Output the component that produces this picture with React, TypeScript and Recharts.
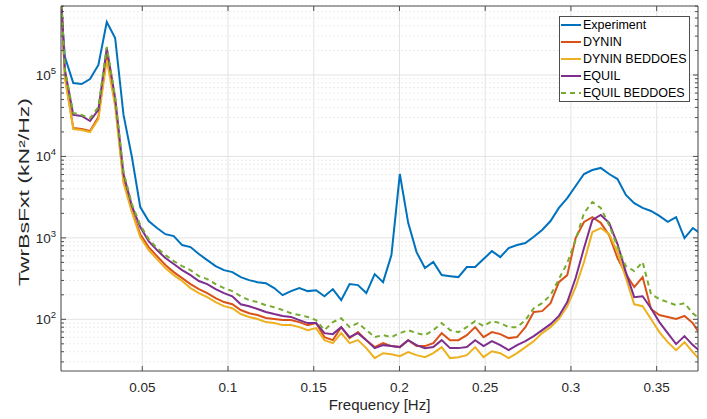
import React from "react";
import {
  LineChart,
  Line,
  XAxis,
  YAxis,
  CartesianGrid,
  ReferenceLine,
  Legend,
} from "recharts";

// frequency bins (Hz), df = 1/204.8
const freq = [
  0, 0.00488, 0.00977, 0.01465, 0.01953, 0.02441, 0.0293, 0.03418, 0.03906, 0.04395,
  0.04883, 0.05371, 0.05859, 0.06348, 0.06836, 0.07324, 0.07813, 0.08301, 0.08789, 0.09277,
  0.09766, 0.10254, 0.10742, 0.1123, 0.11719, 0.12207, 0.12695, 0.13184, 0.13672, 0.1416,
  0.14648, 0.15137, 0.15625, 0.16113, 0.16602, 0.1709, 0.17578, 0.18066, 0.18555, 0.19043,
  0.19531, 0.2002, 0.20508, 0.20996, 0.21484, 0.21973, 0.22461, 0.22949, 0.23438, 0.23926,
  0.24414, 0.24902, 0.25391, 0.25879, 0.26367, 0.26855, 0.27344, 0.27832, 0.2832, 0.28809,
  0.29297, 0.29785, 0.30273, 0.30762, 0.3125, 0.31738, 0.32227, 0.32715, 0.33203, 0.33691,
  0.3418, 0.34668, 0.35156, 0.35645, 0.36133, 0.36621, 0.37109, 0.37598,
];

const experiment = [
  3500000, 166000, 79800, 77500, 89300, 133000, 448000, 285000, 32300, 9840,
  2390, 1610, 1320, 1110, 1050, 816, 771, 633, 534, 451,
  402, 380, 330, 303, 286, 278, 242, 198, 222, 242,
  222, 228, 192, 235, 172, 271, 263, 210, 359, 286,
  615, 6080, 1530, 669, 426, 505, 349, 339, 330, 438,
  438, 549, 688, 581, 750, 816, 864, 1030, 1250, 1610,
  2330, 3080, 4330, 6080, 6810, 7220, 6080, 5280, 3360, 2670,
  2330, 2140, 1860, 1570, 1800, 995, 1320, 1110,
];

const dynin = [
  12000000, 97200, 22300, 21700, 20500, 30500, 176000, 45300, 5130, 2140,
  1110, 771, 598, 464, 380, 321, 271, 235, 210, 182,
  163, 153, 130, 119, 113, 104, 101, 97.8, 97.8, 92.4,
  84.9, 89.9, 60.5, 55.5, 80.2, 58.8, 69.6, 55.5, 45.6, 51,
  46.9, 45.6, 55.5, 46.9, 46.9, 51, 67.7, 55.5, 55.5, 64,
  80.2, 60.5, 69.6, 65.8, 58.8, 60.5, 80.2, 123, 126, 158,
  286, 349, 995, 1570, 1800, 1530, 1080, 565, 359, 249,
  330, 134, 113, 107, 101, 110, 89.9, 62.2,
];

const dyninBeddoes = [
  12000000, 91900, 21700, 21100, 19900, 28800, 153000, 41600, 4700, 2080,
  1020, 708, 549, 426, 349, 295, 242, 210, 187, 163,
  145, 137, 116, 107, 101, 92.4, 89.9, 84.9, 84.9, 80.2,
  73.7, 78, 55.5, 51, 67.7, 51, 55.5, 44.3, 33.4, 38.4,
  37.3, 35.3, 39.5, 36.3, 34.3, 38.4, 45.6, 33.4, 34.3, 36.3,
  45.6, 34.3, 40.6, 38.4, 33.4, 38.4, 45.6, 54, 67.7, 80.2,
  101, 145, 249, 505, 1180, 1320, 1110, 669, 321, 153,
  145, 101, 69.6, 52.4, 41.8, 52.4, 39.5, 30.6,
];

const equil = [
  12000000, 115000, 32300, 31400, 27200, 37200, 215000, 52200, 6080, 2460,
  1360, 914, 708, 565, 477, 402, 349, 295, 271, 235,
  210, 192, 153, 145, 134, 123, 116, 110, 107, 97.8,
  89.9, 89.9, 67.7, 65.8, 80.2, 60.5, 67.7, 55.5, 44.3, 48.2,
  46.9, 45.6, 55.5, 48.2, 44.3, 45.6, 55.5, 44.3, 44.3, 45.6,
  55.5, 46.9, 54, 48.2, 41.8, 48.2, 54, 62.2, 73.7, 87.3,
  110, 163, 321, 750, 1660, 1910, 1530, 840, 380, 187,
  192, 137, 92.4, 67.7, 49.6, 62.2, 48.2, 39.5,
];

const equilBeddoes = [
  12000000, 115000, 34100, 32300, 29600, 40400, 221000, 53700, 6430, 2600,
  1440, 967, 750, 615, 519, 451, 402, 339, 312, 271,
  242, 222, 192, 172, 163, 149, 141, 130, 119, 113,
  107, 97.8, 73.7, 92.4, 103, 80.2, 89.9, 73.7, 60.5, 64,
  60.5, 67.7, 73.7, 67.7, 64, 73.7, 89.9, 73.7, 69.6, 80.2,
  95.1, 82.5, 95.1, 89.9, 80.2, 80.2, 97.8, 137, 158, 198,
  312, 491, 940, 2020, 2750, 2330, 1440, 771, 451, 391,
  505, 204, 177, 163, 149, 158, 119, 97.8,
];

const X_TICKS = [0.05, 0.1, 0.15, 0.2, 0.25, 0.3, 0.35];
const Y_MAJOR = [100, 1000, 10000, 100000];
const Y_MINOR = [
  30, 40, 50, 60, 70, 80, 90,
  200, 300, 400, 500, 600, 700, 800, 900,
  2000, 3000, 4000, 5000, 6000, 7000, 8000, 9000,
  20000, 30000, 40000, 50000, 60000, 70000, 80000, 90000,
  200000, 300000, 400000, 500000, 600000, 700000,
];
const Y_TICKS = [...Y_MINOR, ...Y_MAJOR].sort((a, b) => a - b);

const X_DOMAIN = [0.0026, 0.3741];
const Y_DOMAIN = [23.2, 703000];

const SERIES = [
  { key: "experiment", name: "Experiment", color: "#0072BD" },
  { key: "dynin", name: "DYNIN", color: "#D95319" },
  { key: "dyninBeddoes", name: "DYNIN BEDDOES", color: "#EDB120" },
  { key: "equil", name: "EQUIL", color: "#7E2F8E" },
  { key: "equilBeddoes", name: "EQUIL BEDDOES", color: "#77AC30", dash: "5 4" },
];

const data = freq.map((f, i) => ({
  f,
  experiment: experiment[i],
  dynin: dynin[i],
  dyninBeddoes: dyninBeddoes[i],
  equil: equil[i],
  equilBeddoes: equilBeddoes[i],
}));

const FONT = '"Liberation Sans", Arial, Helvetica, sans-serif';
const AXIS = "#4d4d4d";
const TEXT = "#262626";

const LeftTick = (props: any) => {
  const { x, y, payload } = props;
  const major = Y_MAJOR.includes(payload.value);
  return (
    <g>
      <line x1={x} x2={x + (major ? 5 : 3)} y1={y} y2={y} stroke={AXIS} />
      {major && (
        <text x={x - 5} y={y + 5} textAnchor="end" fill={TEXT} fontSize={13.5} fontFamily={FONT}>
          10
          <tspan dy={-6} fontSize={9.5}>
            {Math.round(Math.log10(payload.value))}
          </tspan>
        </text>
      )}
    </g>
  );
};

const RightTick = (props: any) => {
  const { x, y, payload } = props;
  const major = Y_MAJOR.includes(payload.value);
  return <line x1={x} x2={x - (major ? 5 : 3)} y1={y} y2={y} stroke={AXIS} />;
};

const BottomTick = (props: any) => {
  const { x, y, payload } = props;
  return (
    <g>
      <line x1={x} x2={x} y1={y} y2={y - 5} stroke={AXIS} />
      <text x={x} y={y + 21} textAnchor="middle" fill={TEXT} fontSize={13.5} fontFamily={FONT}>
        {payload.value}
      </text>
    </g>
  );
};

const TopTick = (props: any) => {
  const { x, y } = props;
  return <line x1={x} x2={x} y1={y} y2={y + 5} stroke={AXIS} />;
};

// y label is drawn stretched along its length, as in the source figure
const YLabel = () => (
  <text
    transform="translate(29,192) rotate(-90)"
    textAnchor="middle"
    fill={TEXT}
    fontSize={15}
    fontFamily={FONT}
    textLength={188}
    lengthAdjust="spacingAndGlyphs"
  >
    TwrBsFxt (kN²/Hz)
  </text>
);

const LegendBox = () => (
  <div
    style={{
      border: `1px solid ${AXIS}`,
      background: "#fff",
      fontFamily: FONT,
      fontSize: 12.5,
      color: "#000",
      width: 131,
      boxSizing: "border-box",
    }}
  >
    {SERIES.map((s) => (
      <div key={s.key} style={{ display: "flex", alignItems: "center", height: 16.8 }}>
        <svg width={23} height={6} style={{ flex: "none" }}>
          <line x1={1} x2={21} y1={3} y2={3} stroke={s.color} strokeWidth={2} strokeDasharray={s.dash} />
        </svg>
        <span>{s.name}</span>
      </div>
    ))}
  </div>
);

export default function App() {
  return (
    <div style={{ position: "absolute", left: 0, top: 0, width: 707, height: 419, background: "#fff" }}>
      <LineChart width={707} height={419} data={data} margin={{ top: 6, right: 9, bottom: 0, left: 0 }}>
        <CartesianGrid horizontal={false} stroke="#e3e3e3" />
        {Y_MINOR.map((v) => (
          <ReferenceLine key={`mn${v}`} y={v} stroke="#ececec" strokeDasharray="2 2" />
        ))}
        {Y_MAJOR.map((v) => (
          <ReferenceLine key={`mj${v}`} y={v} stroke="#e3e3e3" />
        ))}
        <XAxis
          dataKey="f"
          type="number"
          domain={X_DOMAIN}
          allowDataOverflow
          ticks={X_TICKS}
          interval={0}
          tickLine={false}
          tickSize={0}
          tickMargin={0}
          tick={<BottomTick />}
          height={48}
          axisLine={{ stroke: AXIS }}
          label={{ value: "Frequency [Hz]", position: "insideBottom", offset: 9, fill: TEXT, fontSize: 15, fontFamily: FONT }}
        />
        <XAxis
          xAxisId="top"
          orientation="top"
          mirror
          dataKey="f"
          type="number"
          domain={X_DOMAIN}
          allowDataOverflow
          ticks={X_TICKS}
          interval={0}
          tickLine={false}
          tickSize={0}
          tickMargin={0}
          tick={<TopTick />}
          axisLine={{ stroke: AXIS }}
        />
        <YAxis
          type="number"
          scale="log"
          domain={Y_DOMAIN}
          allowDataOverflow
          ticks={Y_TICKS}
          interval={0}
          tickLine={false}
          tickSize={0}
          tickMargin={0}
          tick={<LeftTick />}
          width={61}
          axisLine={{ stroke: AXIS }}
          label={<YLabel />}
        />
        <YAxis
          yAxisId="right"
          orientation="right"
          mirror
          type="number"
          scale="log"
          domain={Y_DOMAIN}
          allowDataOverflow
          ticks={Y_TICKS}
          interval={0}
          tickLine={false}
          tickSize={0}
          tickMargin={0}
          tick={<RightTick />}
          axisLine={{ stroke: AXIS }}
        />
        {SERIES.map((s) => (
          <Line
            key={s.key}
            dataKey={s.key}
            name={s.name}
            type="linear"
            stroke={s.color}
            strokeWidth={2}
            strokeDasharray={s.dash}
            dot={false}
            isAnimationActive={false}
          />
        ))}
        <Legend
          layout="vertical"
          align="center"
          verticalAlign="middle"
          content={<LegendBox />}
          wrapperStyle={{ left: 559, top: 16, width: 131, height: "auto" }}
        />
      </LineChart>
    </div>
  );
}
